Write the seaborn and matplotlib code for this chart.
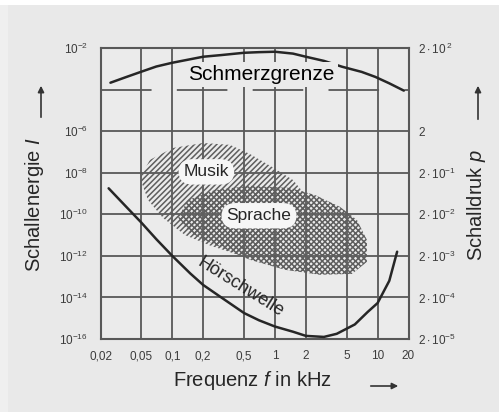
import matplotlib
matplotlib.use("Agg")
import matplotlib.pyplot as plt
import seaborn as sns
import numpy as np
import pandas as pd
from matplotlib.patches import Rectangle
from matplotlib.ticker import NullLocator

# ---------------- data ----------------
x_ticks = [0.02, 0.05, 0.1, 0.2, 0.5, 1, 2, 5, 10, 20]
x_labels = ["0,02", "0,05", "0,1", "0,2", "0,5", "1", "2", "5", "10", "20"]
y_ticks_exp = [-2, -6, -8, -10, -12, -14, -16]
y_labels_left = [r"$10^{-2}$", r"$10^{-6}$", r"$10^{-8}$", r"$10^{-10}$",
                 r"$10^{-12}$", r"$10^{-14}$", r"$10^{-16}$"]
y_labels_right = [r"$2\cdot10^{\,2}$", r"$2$", r"$2\cdot10^{-1}$", r"$2\cdot10^{-2}$",
                  r"$2\cdot10^{-3}$", r"$2\cdot10^{-4}$", r"$2\cdot10^{-5}$"]

# Schmerzgrenze (pain threshold): frequency in kHz, log10 intensity
schmerz_f = [0.025, 0.035, 0.05, 0.07, 0.1, 0.2, 0.3, 0.5, 0.7, 1, 1.5, 2, 3, 4.5, 7, 9.5, 13, 18]
schmerz_logI = [-3.67, -3.41, -3.14, -2.89, -2.71, -2.42, -2.34, -2.23, -2.2, -2.18,
                -2.27, -2.42, -2.62, -2.9, -3.15, -3.39, -3.7, -4.05]

# Hoerschwelle (hearing threshold)
hoer_f = [0.024, 0.035, 0.05, 0.07, 0.1, 0.15, 0.2, 0.3, 0.5, 0.7, 1, 1.5, 2, 3, 4,
          6, 8, 10, 13, 15.5]
hoer_logI = [-8.75, -9.6, -10.4, -11.2, -12.0, -12.85, -13.4, -14.0, -14.75, -15.1,
             -15.4, -15.65, -15.85, -15.9, -15.75, -15.3, -14.7, -14.27, -13.2, -11.8]

# Musik region outline
musik_f = [0.0485, 0.0607, 0.1016, 0.199, 0.365, 0.571, 0.936, 1.50, 2.05, 1.96,
           1.25, 0.715, 0.408, 0.233, 0.133, 0.081, 0.058]
musik_logI = [-8.25, -7.38, -6.81, -6.57, -6.66, -7.10, -7.72, -8.35, -9.16, -10.03,
              -11.0, -11.95, -11.9, -11.5, -11.0, -10.17, -9.31]

# Sprache region outline
sprache_f = [0.114, 0.142, 0.261, 0.571, 1.40, 2.45, 4.29, 6.29, 7.87, 7.87, 5.62,
             2.74, 1.25, 0.571, 0.261, 0.148]
sprache_logI = [-10.17, -9.31, -8.83, -8.63, -8.73, -9.07, -9.64, -10.27, -11.23,
                -12.29, -12.87, -12.91, -12.67, -12.19, -11.47, -10.89]

# ---------------- style ----------------
sns.set_theme(style="white")
plt.rcParams["font.family"] = ["Liberation Sans", "DejaVu Sans"]
plt.rcParams["mathtext.fontset"] = "custom"
plt.rcParams["mathtext.rm"] = "Liberation Sans"
plt.rcParams["mathtext.it"] = "Liberation Sans:italic"
plt.rcParams["hatch.linewidth"] = 1.1

BG = "#e9e9e9"
GRID = "#585858"
LINE = "#262626"
TICK = "#3c3c3c"
HATCH = "#5e5e5e"

W, H = 499, 412
fig = plt.figure(figsize=(W / 100, H / 100), dpi=100, facecolor=BG)
fig.patches.append(Rectangle((0, 1 - 5 / H), 1, 5 / H, transform=fig.transFigure,
                             facecolor="white", edgecolor="none", zorder=-5))
fig.patches.append(Rectangle((0, 0), 8 / W, 1 - 5 / H, transform=fig.transFigure,
                             facecolor="#efefef", edgecolor="none", zorder=-5))

left, right, top, bottom = 100.5, 408.5, 48, 339
ax = fig.add_axes([left / W, 1 - bottom / H, (right - left) / W, (bottom - top) / H])
ax.set_facecolor("#ebebeb")
ax.set_xscale("log")
ax.set_yscale("log")
ax.set_xlim(0.02, 20)
ax.set_ylim(1e-16, 1e-2)

# regions
ax.fill(musik_f, 10 ** np.array(musik_logI), facecolor="none", edgecolor=HATCH,
        hatch="//////", lw=0, zorder=2)
ax.fill(sprache_f, 10 ** np.array(sprache_logI), facecolor="none", edgecolor=HATCH,
        hatch="xxxxxx", lw=0, zorder=2)

# curves
df_s = pd.DataFrame({"f": schmerz_f, "I": 10 ** np.array(schmerz_logI)})
df_h = pd.DataFrame({"f": hoer_f, "I": 10 ** np.array(hoer_logI)})
sns.lineplot(data=df_s, x="f", y="I", ax=ax, color=LINE, lw=1.8, estimator=None, zorder=4)
sns.lineplot(data=df_h, x="f", y="I", ax=ax, color=LINE, lw=1.8, estimator=None, zorder=4)

# grid & ticks
ax.set_xticks(x_ticks)
ax.set_xticklabels(x_labels)
ax.set_yticks([10.0 ** e for e in y_ticks_exp])
ax.set_yticklabels(y_labels_left)
ax.xaxis.set_minor_locator(NullLocator())
ax.yaxis.set_minor_locator(NullLocator())
ax.grid(True, which="major", color=GRID, lw=1.3, zorder=1)
ax.set_axisbelow(True)
ax.axhline(1e-4, color=GRID, lw=1.3, dashes=(28, 14), dash_capstyle="butt", zorder=1)
ax.tick_params(axis="both", length=0, labelsize=8.5, labelcolor=TICK)
ax.tick_params(axis="x", pad=8)
ax.tick_params(axis="y", pad=9)
for sp in ax.spines.values():
    sp.set_color(GRID)
    sp.set_linewidth(1.5)
ax.set_xlabel("")
ax.set_ylabel("")

ax2 = ax.twinx()
ax2.set_yscale("log")
ax2.set_ylim(1e-16, 1e-2)
ax2.set_yticks([10.0 ** e for e in y_ticks_exp])
ax2.set_yticklabels(y_labels_right)
ax2.yaxis.set_minor_locator(NullLocator())
ax2.tick_params(axis="y", length=0, labelsize=8.5, labelcolor=TICK, pad=7)
ax2.grid(False)
for sp in ax2.spines.values():
    sp.set_visible(False)

# annotations inside
ax.text(0.74, 10 ** -3.26, "Schmerzgrenze", ha="center", va="center", fontsize=15,
        color="black", zorder=5,
        bbox=dict(boxstyle="square,pad=0.15", facecolor="#ebebeb", edgecolor="none"))
ax.text(0.215, 10 ** -7.96, "Musik", ha="center", va="center", fontsize=12.5, zorder=5,
        bbox=dict(boxstyle="round,pad=0.3,rounding_size=0.8", facecolor="#f6f6f6",
                  edgecolor="none"))
ax.text(0.70, 10 ** -10.07, "Sprache", ha="center", va="center", fontsize=12.5, zorder=5,
        bbox=dict(boxstyle="round,pad=0.3,rounding_size=0.8", facecolor="#f6f6f6",
                  edgecolor="none"))
ax.text(0.46, 10 ** -13.5, "Hörschwelle", ha="center", va="center", fontsize=13,
        rotation=-32, rotation_mode="anchor", zorder=5)

# axis titles
fig.text(35 / W, 1 - 205 / H, "Schallenergie $I$", rotation=90, ha="center",
         va="center", fontsize=14.5)
fig.text(477 / W, 1 - 205 / H, "Schalldruk $p$", rotation=90, ha="center",
         va="center", fontsize=14.5)
fig.text(252 / W, 1 - 381 / H, "Frequenz $f$ in kHz", ha="center", va="center",
         fontsize=14.5)

arrow = dict(arrowstyle="-|>", color="#333333", lw=1.2, mutation_scale=9)
fig.add_artist(matplotlib.patches.FancyArrowPatch((41 / W, 1 - 120 / H), (41 / W, 1 - 83 / H),
               transform=fig.transFigure, **arrow))
fig.add_artist(matplotlib.patches.FancyArrowPatch((478 / W, 1 - 122 / H), (478 / W, 1 - 83 / H),
               transform=fig.transFigure, **arrow))
fig.add_artist(matplotlib.patches.FancyArrowPatch((368 / W, 1 - 386 / H), (401 / W, 1 - 386 / H),
               transform=fig.transFigure, **arrow))

fig.savefig("out.png", dpi=100, facecolor=fig.get_facecolor())
